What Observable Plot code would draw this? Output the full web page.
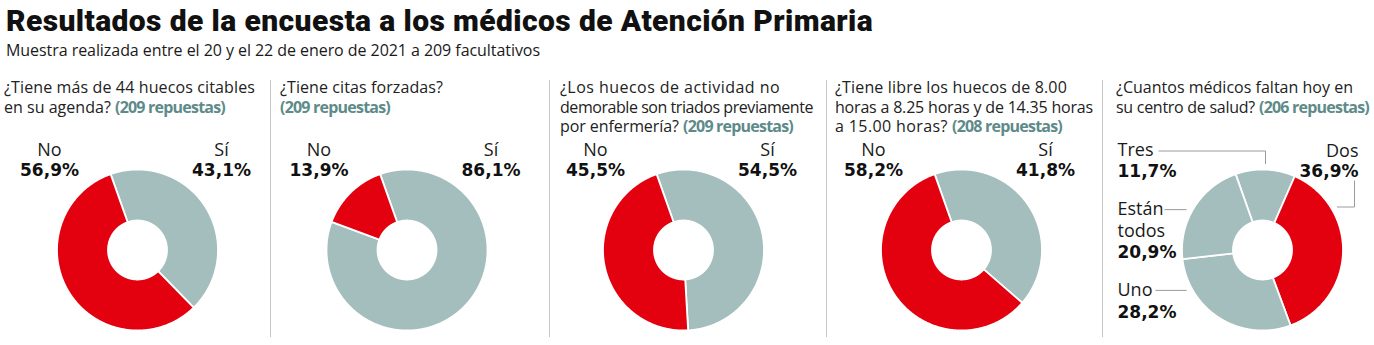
<!DOCTYPE html>
<html><head><meta charset="utf-8">
<script src="https://cdn.jsdelivr.net/npm/d3@7"></script>
<script src="https://cdn.jsdelivr.net/npm/@observablehq/plot@0.6"></script>
<style>
html,body{margin:0;padding:0;background:#fff;}
#chart{position:relative;width:1374px;height:345px;overflow:hidden;font-family:"Open Sans",sans-serif;color:#222;}
.title{position:absolute;left:6px;top:4px;font-family:Roboto,sans-serif;font-weight:900;font-size:30px;line-height:34px;color:#111;white-space:nowrap;}
.subtitle{position:absolute;left:6px;top:41px;font-size:16px;line-height:18px;white-space:nowrap;color:#1a1a1a;}
.q{position:absolute;top:78px;font-size:16px;line-height:19.5px;white-space:nowrap;color:#222;}
.q b{color:#5e8b8a;font-weight:700;}
.divider{position:absolute;top:80px;height:257px;width:0;border-left:1px solid #c6c6c6;}
.panel{position:absolute;}
.panel svg{overflow:visible;}
</style></head>
<body><div id="chart"></div>
<script>
// ---------- data ----------
const title = "Resultados de la encuesta a los médicos de Atención Primaria";
const subtitle = "Muestra realizada entre el 20 y el 22 de enero de 2021 a 209 facultativos";
const questionLines = [
  ["¿Tiene más de 44 huecos citables", "en su agenda?"],
  ["¿Tiene citas forzadas?", ""],
  ["¿Los huecos de actividad no", "demorable son triados previamente", "por enfermería?"],
  ["¿Tiene libre los huecos de 8.00", "horas a 8.25 horas y de 14.35 horas", "a 15.00 horas?"],
  ["¿Cuantos médicos faltan hoy en", "su centro de salud?"]
];
const responses = [209, 209, 209, 208, 206];
const answers = [["Sí", "No"], ["Sí", "No"], ["Sí", "No"], ["Sí", "No"], ["Tres", "Dos", "Uno", "Están todos"]];
const percents = [[43.1, 56.9], [86.1, 13.9], [54.5, 45.5], [41.8, 58.2], [11.7, 36.9, 28.2, 20.9]];

// ---------- layout / style ----------
const RED = "#e3000f", GREY = "#a4bdbd";
const highlight = new Set(["No", "Dos"]);
const panelLeft = [0, 270, 549, 826, 1102];
const textLeft = [4, 280, 560, 835, 1116];
const lineWidths = [[251, 221], [163, 110], [220, 253, 233], [232, 258, 227], [237, 253]];
const boldWidth = 110;
const donutCx = [137, 406.5, 683, 961, 1262];
const donutCy = 249.5, svgTop = 135, svgH = 210;
const R0 = 80.5, R1 = 29.5;
const startAngle = -19.5 * Math.PI / 180;
const fmt = v => v.toFixed(1).replace(".", ",") + "%";

const chart = document.getElementById("chart");
const tEl = document.createElement("div"); tEl.className = "title"; tEl.textContent = title; chart.appendChild(tEl);
const sEl = document.createElement("div"); sEl.className = "subtitle"; sEl.textContent = subtitle; chart.appendChild(sEl);

function fit(el, target) {
  const w = el.getBoundingClientRect().width;
  el.style.letterSpacing = ((target - w) / el.textContent.length) + "px";
}
fit(tEl, 867);
fit(sEl, 534);

// question texts
questionLines.forEach((lines, i) => {
  const q = document.createElement("div");
  q.className = "q";
  q.style.left = textLeft[i] + "px";
  q.innerHTML = lines.map((l, j) => {
    const last = j === lines.length - 1;
    const reg = l ? `<span class="reg">${l}</span>` : "";
    return `<span class="line">${reg}${last ? (l ? " " : "") + `<b>(${responses[i]} repuestas)</b>` : ""}</span>`;
  }).join("<br>");
  chart.appendChild(q);
  q.querySelectorAll(".line").forEach((line, j) => {
    const b = line.querySelector("b");
    if (b) fit(b, boldWidth);
    const reg = line.querySelector(".reg");
    if (reg) {
      const w = line.getBoundingClientRect().width;
      reg.style.letterSpacing = ((lineWidths[i][j] - w) / reg.textContent.length) + "px";
    }
  });
});

// dividers
panelLeft.slice(1).forEach(x => {
  const d = document.createElement("div"); d.className = "divider"; d.style.left = x + "px"; chart.appendChild(d);
});

// ---------- donuts ----------
function arcPoints(a0, a1) {
  const pts = [];
  const n = Math.max(2, Math.ceil((a1 - a0) / (Math.PI / 360)));
  for (let i = 0; i <= n; i++) { const t = a0 + (a1 - a0) * i / n; pts.push({x: R0 * Math.sin(t), y: R0 * Math.cos(t)}); }
  for (let i = n; i >= 0; i--) { const t = a0 + (a1 - a0) * i / n; pts.push({x: R1 * Math.sin(t), y: R1 * Math.cos(t)}); }
  return pts;
}
const polar = (deg, r) => [r * Math.sin(deg * Math.PI / 180), r * Math.cos(deg * Math.PI / 180)];

// label layout for the multi-answer panel (local px, y up, origin at donut centre)
const multiLayout = {
  "Tres": {x: -145, anchor: "start", nameY: 94, valY: 73.5, leader: (() => { const [ex, ey] = polar(2, 86); return [[-104, 99], [ex, 99], [ex, ey]]; })()},
  "Están todos": {x: -145, anchor: "start", nameY: 13.5, valY: -8, leader: (() => { const [ex, ey] = polar(298, 86); return [[-98, ey], [ex, ey]]; })()},
  "Uno": {x: -145, anchor: "start", nameY: -45.5, valY: -67.5, leader: (() => { const [ex, ey] = polar(242, 86); return [[-107, ey], [ex, ey]]; })()},
  "Dos": {x: 96, anchor: "end", nameY: 93.5, valY: 73.5, leader: (() => { const [ex, ey] = polar(60, 86); return [[ex, ey], [92, ey], [92, 69.5]]; })()}
};

answers.forEach((cats, i) => {
  const rows = cats.map((c, k) => ({name: c, value: percents[i][k]}));
  const arcs = d3.pie().sort(null).value(d => d.value).startAngle(startAngle).endAngle(startAngle + 2 * Math.PI)(rows);
  const W = (i < 4 ? panelLeft[i + 1] : 1374) - panelLeft[i];
  const cxL = donutCx[i] - panelLeft[i];
  const cyL = donutCy - svgTop;

  const marks = arcs.map(a => Plot.line(arcPoints(a.startAngle, a.endAngle), {
    x: "x", y: "y", fill: highlight.has(a.data.name) ? RED : GREY,
    stroke: "#fff", strokeWidth: 1.8, curve: "linear-closed"
  }));

  let labels;
  if (cats.length === 2) {
    labels = arcs.map(a => {
      const mid = (a.startAngle + a.endAngle) / 2;
      const left = Math.sin(mid) < 0;
      return {name: a.data.name, val: fmt(a.data.value), x: left ? -88 : 84, nameY: 94, valY: 74, anchor: "middle"};
    });
  } else {
    labels = arcs.map(a => {
      const L = multiLayout[a.data.name];
      return {name: a.data.name.replace(" ", "\n"), val: fmt(a.data.value), x: L.x, nameY: L.nameY, valY: L.valY, anchor: L.anchor};
    });
    const leaders = [];
    arcs.forEach(a => multiLayout[a.data.name].leader.forEach(([x, y]) => leaders.push({key: a.data.name, x, y})));
    marks.push(Plot.line(leaders, {x: "x", y: "y", z: "key", stroke: "#9a9a9a", strokeWidth: 1, strokeLinejoin: "miter", strokeLinecap: "butt"}));
  }
  for (const anchor of ["start", "middle", "end"]) {
    const sub = labels.filter(d => d.anchor === anchor);
    if (!sub.length) continue;
    marks.push(Plot.text(sub, {x: "x", y: "nameY", text: "name", textAnchor: anchor, lineAnchor: "bottom",
      lineHeight: 22 / 18, fontFamily: "Open Sans", fontSize: 18, fill: "#1a1a1a"}));
    marks.push(Plot.text(sub, {x: "x", y: "valY", text: "val", textAnchor: anchor, lineAnchor: "bottom",
      fontFamily: "DejaVu Sans", fontWeight: "bold", fontSize: 17, fill: "#111"}));
  }

  const svg = Plot.plot({
    width: W, height: svgH, margin: 0,
    x: {domain: [-cxL, W - cxL], range: [0, W], axis: null},
    y: {domain: [-(svgH - cyL), cyL], range: [svgH, 0], axis: null},
    style: {background: "transparent", overflow: "visible"},
    marks
  });
  const holder = document.createElement("div");
  holder.className = "panel";
  holder.style.left = panelLeft[i] + "px";
  holder.style.top = svgTop + "px";
  holder.appendChild(svg);
  chart.appendChild(holder);
});
</script>
</body></html>
